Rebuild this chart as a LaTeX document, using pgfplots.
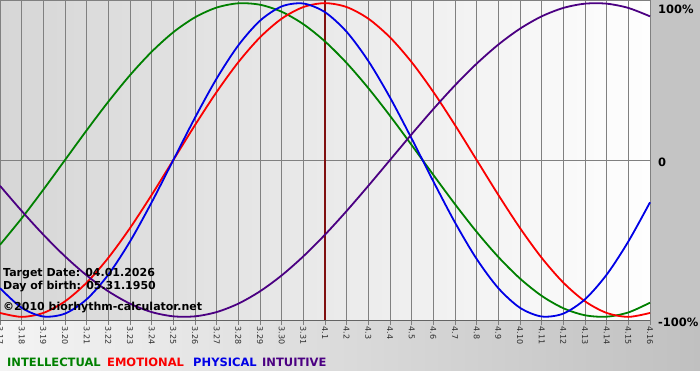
\documentclass[border=0pt]{standalone}
\usepackage{pgfplots}
\usepackage{pgfplotstable}
\pgfplotsset{compat=1.18}
\usepackage{fontspec}
\setmainfont{DejaVu Sans}
\usetikzlibrary{shadings}
\definecolor{cInt}{RGB}{0,128,0}
\definecolor{cEmo}{RGB}{250,0,0}
\definecolor{cPhy}{RGB}{0,0,230}
\definecolor{cIntu}{RGB}{75,0,130}
\definecolor{cGrid}{RGB}{128,128,128}
\definecolor{cMark}{RGB}{128,16,16}
\definecolor{cSide}{RGB}{196,196,196}

\pgfplotstableread{
x phy emo int intu
0 -0.81697 -0.97493 -0.54064 -0.16459
1 -0.94226 -1.00000 -0.37166 -0.32470
2 -0.99767 -0.97493 -0.18925 -0.47595
3 -0.97908 -0.90097 0.00000 -0.61421
4 -0.88789 -0.78183 0.18925 -0.73572
5 -0.73084 -0.62349 0.37166 -0.83717
6 -0.51958 -0.43388 0.54064 -0.91577
7 -0.26980 -0.22252 0.69007 -0.96940
8 0.00000 0.00000 0.81457 -0.99658
9 0.26980 0.22252 0.90963 -0.99658
10 0.51958 0.43388 0.97181 -0.96940
11 0.73084 0.62349 0.99887 -0.91577
12 0.88789 0.78183 0.98982 -0.83717
13 0.97908 0.90097 0.94500 -0.73572
14 0.99767 0.97493 0.86603 -0.61421
15 0.94226 1.00000 0.75575 -0.47595
16 0.81697 0.97493 0.61816 -0.32470
17 0.63109 0.90097 0.45823 -0.16459
18 0.39840 0.78183 0.28173 0.00000
19 0.13617 0.62349 0.09506 0.16459
20 -0.13617 0.43388 -0.09506 0.32470
21 -0.39840 0.22252 -0.28173 0.47595
22 -0.63109 0.00000 -0.45823 0.61421
23 -0.81697 -0.22252 -0.61816 0.73572
24 -0.94226 -0.43388 -0.75575 0.83717
25 -0.99767 -0.62349 -0.86603 0.91577
26 -0.97908 -0.78183 -0.94500 0.96940
27 -0.88789 -0.90097 -0.98982 0.99658
28 -0.73084 -0.97493 -0.99887 0.99658
29 -0.51958 -1.00000 -0.97181 0.96940
30 -0.26980 -0.97493 -0.90963 0.91577
}\bio

\begin{document}
\begin{tikzpicture}
\useasboundingbox (0pt,-60pt) rectangle (700pt,320pt);
\fill[white] (0pt,-60pt) rectangle (700pt,320pt);
\shade[left color={rgb,255:red,244;green,244;blue,244}, right color={rgb,255:red,192;green,192;blue,192}] (0pt,-50pt) rectangle (700pt,0pt);
\fill[cSide] (650pt,0pt) rectangle (700pt,320pt);
\shade[left color={rgb,255:red,214;green,214;blue,214}, right color={rgb,255:red,254;green,254;blue,254}] (0pt,0pt) rectangle (650pt,320pt);
\begin{axis}[
  at={(0pt,0pt)}, anchor=south west,
  width=650pt, height=320pt, scale only axis,
  xmin=0, xmax=30, ymin=-1.02, ymax=1.02,
  clip=false,
  axis line style={draw=cGrid, line width=0.9pt},
  xtick={0,...,30},
  xticklabels={3.17,3.18,3.19,3.20,3.21,3.22,3.23,3.24,3.25,3.26,3.27,3.28,3.29,3.30,3.31,4.1,4.2,4.3,4.4,4.5,4.6,4.7,4.8,4.9,4.10,4.11,4.12,4.13,4.14,4.15,4.16},
  xtick pos=bottom,
  tick align=outside,
  major tick length=5pt,
  xtick style={draw=cGrid, line width=0.9pt},
  xmajorgrids, ymajorgrids,
  major grid style={draw=cGrid, line width=0.9pt},
  ytick={0}, yticklabels={}, ytick style={draw=none},
  xticklabel style={rotate=-90, anchor=west, inner sep=1.5pt, font=\fontsize{8}{9}\selectfont, text={rgb,255:red,45;green,45;blue,45}},
]
\draw[cMark, line width=1.8pt] (axis cs:15,-1.02) -- (axis cs:15,1.02);
\addplot[cInt, line width=1.8pt, smooth] table[x=x, y=int] {\bio};
\addplot[cEmo, line width=1.8pt, smooth] table[x=x, y=emo] {\bio};
\addplot[cPhy, line width=1.8pt, smooth] table[x=x, y=phy] {\bio};
\addplot[cIntu, line width=1.8pt, smooth] table[x=x, y=intu] {\bio};
\draw[draw={rgb,255:red,100;green,100;blue,100}, line width=0.9pt] (rel axis cs:0,0) -- (rel axis cs:1,0);
\end{axis}
\begin{scope}[every node/.style={inner sep=0pt, font=\bfseries\fontsize{11}{13}\selectfont}]
\node[anchor=base west] at (3pt,44pt) {Target Date: 04.01.2026};
\node[anchor=base west] at (3pt,31pt) {Day of birth: 05.31.1950};
\node[anchor=base west] at (3pt,10pt) {©2010 biorhythm-calculator.net};
\node[anchor=west, font=\bfseries\fontsize{11.5}{13}\selectfont] at (658pt,311pt) {100\%};
\node[anchor=west, font=\bfseries\fontsize{11.5}{13}\selectfont] at (658pt,158pt) {0};
\node[anchor=west, font=\bfseries\fontsize{11.5}{13}\selectfont] at (658pt,-2pt) {-100\%};
\node[anchor=base west, text=cInt, font=\bfseries\fontsize{11.5}{13}\selectfont] at (7pt,-46pt) {INTELLECTUAL};
\node[anchor=base west, text=cEmo, font=\bfseries\fontsize{11.5}{13}\selectfont] at (107pt,-46pt) {EMOTIONAL};
\node[anchor=base west, text=cPhy, font=\bfseries\fontsize{11.5}{13}\selectfont] at (193pt,-46pt) {PHYSICAL};
\node[anchor=base west, text=cIntu, font=\bfseries\fontsize{11.5}{13}\selectfont] at (262pt,-46pt) {INTUITIVE};
\end{scope}
\end{tikzpicture}
\end{document}
